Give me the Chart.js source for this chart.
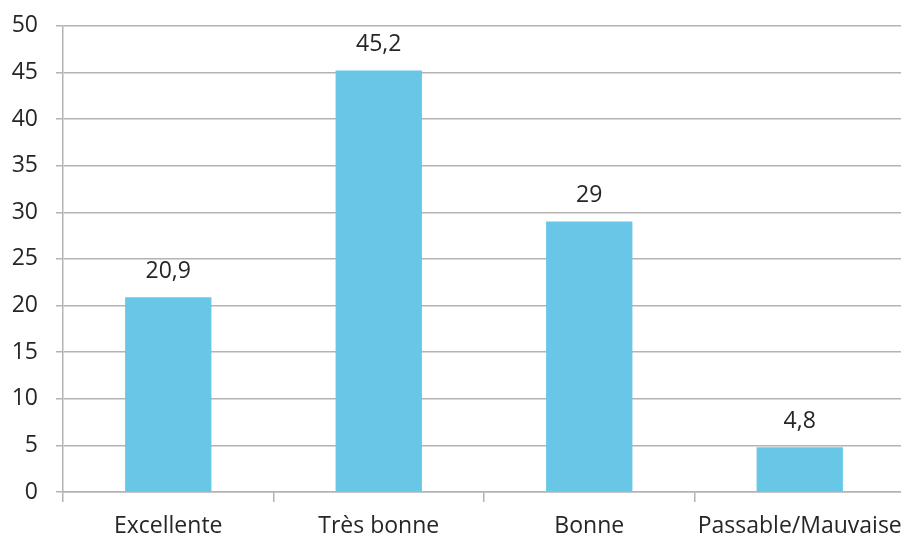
<!DOCTYPE html>
<html lang="fr">
<head>
<meta charset="utf-8">
<script src="https://cdn.jsdelivr.net/npm/chart.js@4/dist/chart.umd.min.js"></script>
<style>
  html, body { margin: 0; padding: 0; background: #fff; overflow: hidden; }
  #wrap { width: 901px; height: 538px; overflow: hidden; }
  #etatChart { display: block; margin-top: -6px; }
</style>
</head>
<body>
<div id="wrap"><canvas id="etatChart" width="905" height="544"></canvas></div>
<script>
const categories = ["Excellente", "Très bonne", "Bonne", "Passable/Mauvaise"];
const values = [20.9, 45.2, 29, 4.8];
const valueLabels = ["20,9", "45,2", "29", "4,8"];

const textColor = "#262626";
const gridColor = "#b3b3b3";
const fontFamily = "'Open Sans', sans-serif";
const fontSize = 23;

// writes the value above each bar
const barLabels = {
  id: "barLabels",
  afterDatasetsDraw(chart) {
    const { ctx } = chart;
    const meta = chart.getDatasetMeta(0);
    ctx.save();
    ctx.font = `${fontSize}px ${fontFamily}`;
    ctx.fillStyle = textColor;
    ctx.textAlign = "center";
    ctx.textBaseline = "middle";
    meta.data.forEach((bar, i) => {
      ctx.fillText(valueLabels[i], bar.x, bar.y - 26);
    });
    ctx.restore();
  },
};

const ctx = document.getElementById("etatChart");
new Chart(ctx, {
  type: "bar",
  data: {
    labels: categories,
    datasets: [
      {
        data: values,
        backgroundColor: "#68c6e6",
        barPercentage: 0.41,
        categoryPercentage: 1,
      },
    ],
  },
  options: {
    responsive: false,
    animation: false,
    layout: { padding: { top: 19, right: 0, left: 0, bottom: 0 } },
    plugins: {
      legend: { display: false },
      tooltip: { enabled: false },
    },
    scales: {
      x: {
        afterFit: (scale) => {
          scale.height = 46;
          // let the last label run past the edge instead of shrinking the plot
          scale.paddingLeft = 0;
          scale.paddingRight = 0;
        },
        grid: {
          drawOnChartArea: false,
          drawTicks: true,
          tickLength: 10,
          color: gridColor,
          lineWidth: 1.5,
        },
        border: { color: gridColor, width: 1.5 },
        ticks: {
          color: textColor,
          padding: 11,
          maxRotation: 0,
          font: { family: fontFamily, size: fontSize },
        },
      },
      y: {
        min: 0,
        max: 50,
        afterFit: (scale) => { scale.width = 63; },
        grid: {
          color: gridColor,
          lineWidth: 1.5,
          drawTicks: true,
          tickLength: 7,
        },
        border: { color: gridColor, width: 1.5 },
        ticks: {
          stepSize: 5,
          color: textColor,
          padding: 18,
          font: { family: fontFamily, size: fontSize },
        },
      },
    },
  },
  plugins: [barLabels],
});
</script>
</body>
</html>
